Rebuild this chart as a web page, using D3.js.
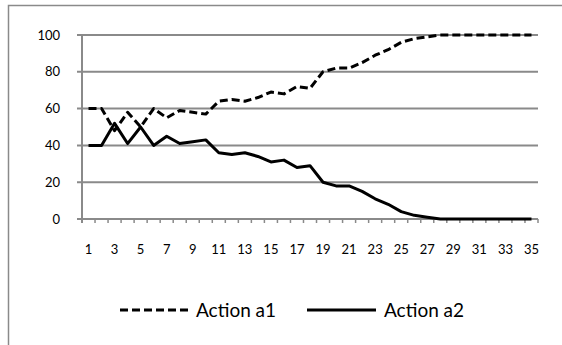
<!DOCTYPE html>
<html>
<head>
<meta charset="utf-8">
<script src="https://cdn.jsdelivr.net/npm/d3@7"></script>
<style>
  html, body { margin: 0; padding: 0; background: #fff; }
  svg { display: block; }
  text { font-family: Lato, "Open Sans", sans-serif; fill: #000; }
</style>
</head>
<body>
<svg id="chart" width="562" height="345"></svg>
<script>
// Iteration index 1..35
const steps = d3.range(1, 36);
// Percentage of choices for each action
const actionA1 = [60, 60, 48, 58, 50, 60, 55, 59, 58, 57, 64, 65, 64, 66, 69, 68, 72, 71, 80, 82, 82, 85, 89, 92, 96, 98, 99, 100, 100, 100, 100, 100, 100, 100, 100];
const actionA2 = [40, 40, 52, 41, 50, 40, 45, 41, 42, 43, 36, 35, 36, 34, 31, 32, 28, 29, 20, 18, 18, 15, 11, 8, 4, 2, 1, 0, 0, 0, 0, 0, 0, 0, 0];
const yTicks = [0, 20, 40, 60, 80, 100];
const xTickLabels = steps.filter(d => d % 2 === 1);
const seriesNames = ["Action a1", "Action a2"];

const svg = d3.select("#chart");
const grey = "#8a8a8a";

// Outer chart frame
svg.append("rect")
  .attr("x", 8.5).attr("y", 5.5)
  .attr("width", 600).attr("height", 400)
  .attr("fill", "none").attr("stroke", grey).attr("stroke-width", 1.5);

const x = d3.scaleBand().domain(steps).range([82, 538]).padding(0);
const y = d3.scaleLinear().domain([0, 100]).range([219, 35]);
const cx = d => x(d) + x.bandwidth() / 2;

// Horizontal gridlines with left tick stubs
svg.append("g").selectAll("line")
  .data(yTicks.filter(d => d > 0))
  .join("line")
  .attr("x1", 77).attr("x2", 538)
  .attr("y1", d => y(d)).attr("y2", d => y(d))
  .attr("stroke", grey).attr("stroke-width", 2);

// Y axis labels
svg.append("g").selectAll("text")
  .data(yTicks)
  .join("text")
  .attr("x", 60).attr("y", d => y(d) + 4.5)
  .attr("text-anchor", "end")
  .attr("font-size", 13)
  .text(d => d);

// Category axis (bottom) with boundary ticks
const xAxis = d3.axisBottom(x)
  .tickValues(xTickLabels)
  .tickSize(0)
  .tickPadding(0)
  .tickFormat(d => d);
const gx = svg.append("g").attr("transform", `translate(0,${y(0)})`).call(xAxis);
gx.select(".domain").remove();
gx.selectAll(".tick text")
  .attr("y", 35).attr("dy", 0)
  .attr("font-size", 13)
  .attr("font-family", "Lato, 'Open Sans', sans-serif")
  .attr("fill", "#000");

const boundaries = [0].concat(steps);
svg.append("g").selectAll("line")
  .data(boundaries)
  .join("line")
  .attr("x1", (d, i) => i === 0 ? x.range()[0] : x(d) + x.bandwidth())
  .attr("x2", (d, i) => i === 0 ? x.range()[0] : x(d) + x.bandwidth())
  .attr("y1", y(0)).attr("y2", y(0) + 4)
  .attr("stroke", grey).attr("stroke-width", 1.5);

// Axis lines
svg.append("line")
  .attr("x1", 77).attr("x2", 538)
  .attr("y1", y(0)).attr("y2", y(0))
  .attr("stroke", grey).attr("stroke-width", 2);
svg.append("line")
  .attr("x1", 82).attr("x2", 82)
  .attr("y1", y(100)).attr("y2", y(0) + 4)
  .attr("stroke", grey).attr("stroke-width", 2);

// Series lines
const line = d3.line().x((d, i) => cx(steps[i])).y(d => y(d));
const styles = [
  { data: actionA1, dash: "8,4" },
  { data: actionA2, dash: null }
];
styles.forEach(s => {
  svg.append("path")
    .datum(s.data)
    .attr("d", line)
    .attr("fill", "none")
    .attr("stroke", "#000")
    .attr("stroke-width", 3)
    .attr("stroke-linejoin", "round")
    .attr("stroke-dasharray", s.dash);
});

// Legend
const legendItems = [
  { name: seriesNames[0], x1: 120, x2: 190, tx: 196, dash: "8,4" },
  { name: seriesNames[1], x1: 307, x2: 376, tx: 384, dash: null }
];
const lg = svg.append("g");
legendItems.forEach(it => {
  lg.append("line")
    .attr("x1", it.x1).attr("x2", it.x2)
    .attr("y1", 310).attr("y2", 310)
    .attr("stroke", "#000").attr("stroke-width", 3)
    .attr("stroke-dasharray", it.dash);
  lg.append("text")
    .attr("x", it.tx).attr("y", 316.5)
    .attr("font-size", 19)
    .text(it.name);
});
</script>
</body>
</html>
